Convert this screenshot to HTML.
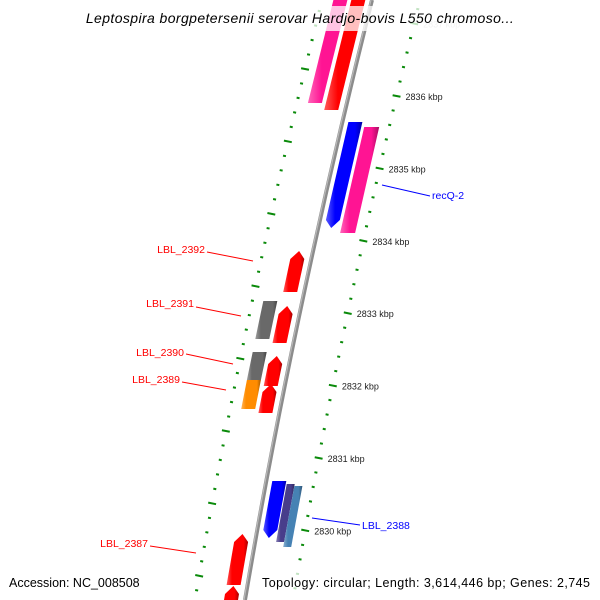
<!DOCTYPE html>
<html><head><meta charset="utf-8"><style>
html,body{margin:0;padding:0;background:#fff;width:600px;height:600px;overflow:hidden;}
svg{display:block;font-family:"Liberation Sans","DejaVu Sans",sans-serif;overflow:hidden;}
</style></head><body>
<svg id="map" width="600" height="600" viewBox="0 0 600 600" xmlns="http://www.w3.org/2000/svg">
<defs>
<linearGradient id="bbg" x1="0" x2="1" y1="0" y2="0"><stop offset="0" stop-color="#c8c8c8"/><stop offset="0.5" stop-color="#8a8a8a"/><stop offset="1" stop-color="#6a6a6a"/></linearGradient>
</defs>
<g id="ticks"></g>
<path id="backbone" d="M372,0 Q294,312 245,600" fill="none" stroke="#8c8c8c" stroke-width="4"/>
<path d="M371,0 Q293,312 244,600" fill="none" stroke="#b8b8b8" stroke-width="1.2"/>
<g id="genes"></g>
<g id="labels"></g>
<rect x="70" y="6" width="462" height="25" fill="#fff" opacity="0.75"/>
<text x="300" y="23" text-anchor="middle" font-size="14" font-style="italic" fill="#000" letter-spacing="0.4">Leptospira borgpetersenii serovar Hardjo-bovis L550 chromoso...</text>
<rect x="5" y="571" width="142" height="20" fill="#fff" opacity="0.75"/>
<text x="9" y="587" font-size="12.5" fill="#000">Accession: NC_008508</text>
<rect x="258" y="571" width="337" height="20" fill="#fff" opacity="0.75"/>
<text x="262" y="587" font-size="12.5" fill="#000" textLength="328">Topology: circular; Length: 3,614,446 bp; Genes: 2,745</text>
</svg>
<script>
// data
const geneStart = [2838.207, 2838.207, 2835.641, 2835.572, 2833.859, 2833.099, 2833.169, 2832.409, 2832.464, 2832.077, 2832.022, 2830.682, 2830.641, 2830.613, 2829.950, 2829.232];
const geneEnd   = [2835.903, 2835.807, 2834.177, 2834.108, 2833.293, 2832.588, 2832.644, 2831.994, 2832.077, 2831.677, 2831.622, 2829.895, 2829.840, 2829.771, 2829.246, 2828.500];
const geneLane  = ['L2','L1','R1','R2','L1','L1','L2','L1','L2','L2','L1','R1','R2a','R2b','L1','L1'];
const geneArrow = ['none','up','down','none','up','up','none','up','none','none','up','down','none','none','up','up'];
const geneColor = ['#ff1493','#ff0000','#0000ff','#ff1493','#ff0000','#ff0000','#696969','#ff0000','#696969','#ff8c00','#ff0000','#0000ff','#483d8b','#4682b4','#ff0000','#ff0000'];
const tickLabels = ['2837 kbp','2836 kbp','2835 kbp','2834 kbp','2833 kbp','2832 kbp','2831 kbp','2830 kbp'];
const tickKbp = [2837,2836,2835,2834,2833,2832,2831,2830];

const SVGNS='http://www.w3.org/2000/svg';
function yOf(k){return 96+(2836-k)*72.4;}
function tOf(y){return (624-Math.sqrt(624*624-96*y))/48;}
function bx(y){const t=tOf(Math.max(-200,Math.min(800,y)));return (1-t)*(1-t)*372+2*t*(1-t)*294+t*t*245;}
const lanes={L1:[-21,-7],L2:[-39,-25],R1:[6,20],R2:[23,38],R2a:[21,29],R2b:[29,37]};
function pt(off,y){return [bx(y)+off,y];}
function mk(tag,attrs){const e=document.createElementNS(SVGNS,tag);for(const k in attrs)e.setAttribute(k,attrs[k]);return e;}
function shade(hex,f){const n=parseInt(hex.slice(1),16);let r=n>>16,g=(n>>8)&255,b=n&255;
 if(f>0){r+= (255-r)*f;g+=(255-g)*f;b+=(255-b)*f;}else{r*=1+f;g*=1+f;b*=1+f;}
 return 'rgb('+Math.round(r)+','+Math.round(g)+','+Math.round(b)+')';}

// ticks
const tg=document.getElementById('ticks');
function tick(off,y,len,w){const nx=1,ny=0.2,l=Math.hypot(nx,ny);const [x,yy]=pt(off,y);
 const d=mk('line',{x1:x-len/2*nx/l,y1:yy-len/2*ny/l,x2:x+len/2*nx/l,y2:yy+len/2*ny/l,stroke:'#0a8a0a','stroke-width':w});
 
 
 tg.appendChild(d);}
for(let i=-10;i<=60;i++){const k=2838-i*0.2;const major=Math.abs(k-Math.round(k))<0.01;
 const y=yOf(k);if(y>-10&&y<600)tick(48,y,major?8:3,2);
 const yi=y-27;if(yi>-10&&yi<600)tick(-50,yi,major?8:3,2);}
tickKbp.forEach((k,i)=>{const y=yOf(k);const t=mk('text',{x:bx(y)+57,y:y+4,'font-size':'9',fill:'#222'});
 t.textContent=tickLabels[i];
 
 
 if(k===2837)t.setAttribute('opacity','0.25');
 tg.appendChild(t);});

// genes
const gg=document.getElementById('genes');
geneStart.forEach((s,i)=>{const [o1,o2]=lanes[geneLane[i]];let y1=yOf(s),y2=yOf(geneEnd[i]);
 const a=geneArrow[i],ah=8,om=(o1+o2)/2;let pts=[];
 if(a==='up'){pts=[pt(o1,y2),pt(o1,y1+ah),pt(om,y1),pt(o2,y1+ah),pt(o2,y2)];}
 else if(a==='down'){pts=[pt(o1,y1),pt(o2,y1),pt(o2,y2-ah),pt(om,y2),pt(o1,y2-ah)];}
 else pts=[pt(o1,y1),pt(o2,y1),pt(o2,y2),pt(o1,y2)];
 const gid='gr'+i;const lg=mk('linearGradient',{id:gid,x1:'0',x2:'1',y1:'0',y2:'0'});
 lg.appendChild(mk('stop',{offset:'0','stop-color':shade(geneColor[i],0.35)}));
 lg.appendChild(mk('stop',{offset:'0.25','stop-color':geneColor[i]}));
 lg.appendChild(mk('stop',{offset:'0.8','stop-color':geneColor[i]}));
 lg.appendChild(mk('stop',{offset:'1','stop-color':shade(geneColor[i],-0.35)}));
 document.querySelector('defs').appendChild(lg);
 const p=mk('polygon',{points:pts.map(q=>q[0].toFixed(1)+','+q[1].toFixed(1)).join(' '),fill:'url(#'+gid+')'});
 
 
 gg.appendChild(p);});

// labels
const labText=['recQ-2','LBL_2392','LBL_2391','LBL_2390','LBL_2389','LBL_2388','LBL_2387'];
const labColor=['#0000ff','#ff0000','#ff0000','#ff0000','#ff0000','#0000ff','#ff0000'];
const labLine=[[382,185,430,196],[207,252,253,261],[196,307,241,316],[186,354,233,364],[182,382,226,390],[312,518,360,525],[150,546,196,553]];
const labPos=[[432,199,'start'],[205,253,'end'],[194,307,'end'],[184,356,'end'],[180,383,'end'],[362,529,'start'],[148,547,'end']];
const lg2=document.getElementById('labels');
labText.forEach((t,i)=>{const l=labLine[i];
 const ln=mk('line',{x1:l[0],y1:l[1],x2:l[2],y2:l[3],stroke:labColor[i],'stroke-width':1});
 
 
 lg2.appendChild(ln);
 const tx=mk('text',{x:labPos[i][0],y:labPos[i][1],'text-anchor':labPos[i][2],'font-size':'10.5',fill:labColor[i]});
 tx.textContent=t;
 
 
 lg2.appendChild(tx);});
</script>
</body></html>
